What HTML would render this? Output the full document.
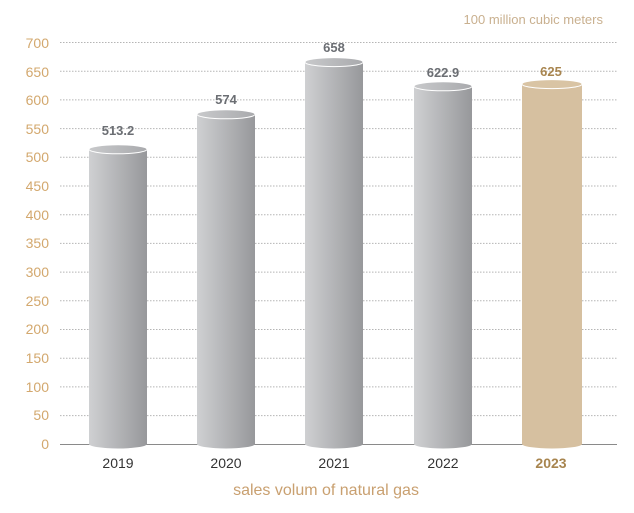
<!DOCTYPE html>
<html><head><style>body{margin:0;background:#fff}svg{display:block}</style></head><body>
<svg width="634" height="513" viewBox="0 0 634 513" font-family="Liberation Sans, Arial, sans-serif">
<defs>
<linearGradient id="g" x1="0" x2="1"><stop offset="0" stop-color="#cfd0d2"/><stop offset="1" stop-color="#97989b"/></linearGradient>
<linearGradient id="gt" x1="0" x2="1"><stop offset="0" stop-color="#c8c9cb"/><stop offset="1" stop-color="#a9aaad"/></linearGradient>
</defs>
<text x="603" y="24" font-size="13" fill="#c9b08f" text-anchor="end">100 million cubic meters</text>
<g stroke="#b5b5b5" stroke-width="1" stroke-dasharray="1.5,1.5">
<line x1="60" x2="617" y1="42.5" y2="42.5"/><line x1="60" x2="617" y1="71.2" y2="71.2"/><line x1="60" x2="617" y1="99.9" y2="99.9"/><line x1="60" x2="617" y1="128.6" y2="128.6"/><line x1="60" x2="617" y1="157.3" y2="157.3"/><line x1="60" x2="617" y1="186" y2="186"/><line x1="60" x2="617" y1="214.7" y2="214.7"/><line x1="60" x2="617" y1="243.4" y2="243.4"/><line x1="60" x2="617" y1="272.1" y2="272.1"/><line x1="60" x2="617" y1="300.8" y2="300.8"/><line x1="60" x2="617" y1="329.5" y2="329.5"/><line x1="60" x2="617" y1="358.2" y2="358.2"/><line x1="60" x2="617" y1="386.9" y2="386.9"/><line x1="60" x2="617" y1="415.6" y2="415.6"/>
</g>
<line x1="60" x2="617" y1="444.5" y2="444.5" stroke="#8a8a8a" stroke-width="1"/>
<g font-size="14" fill="#d3a86e" text-anchor="end">
<text x="49" y="48">700</text><text x="49" y="77">650</text><text x="49" y="105">600</text><text x="49" y="134">550</text><text x="49" y="162">500</text><text x="49" y="191">450</text><text x="49" y="220">400</text><text x="49" y="248">350</text><text x="49" y="277">300</text><text x="49" y="306">250</text><text x="49" y="334">200</text><text x="49" y="363">150</text><text x="49" y="392">100</text><text x="49" y="420">50</text><text x="49" y="449">0</text>
</g>
<g>
<path d="M89,149.3 V444 A29,4.5 0 0 0 147,444 V149.3 Z" fill="url(#g)"/><ellipse cx="118" cy="149.3" rx="29" ry="4.5" fill="url(#gt)" stroke="#fff" stroke-width="1"/>
<path d="M197,114.3 V444 A29,4.5 0 0 0 255,444 V114.3 Z" fill="url(#g)"/><ellipse cx="226" cy="114.3" rx="29" ry="4.5" fill="url(#gt)" stroke="#fff" stroke-width="1"/>
<path d="M305,62.1 V444 A29,4.5 0 0 0 363,444 V62.1 Z" fill="url(#g)"/><ellipse cx="334" cy="62.1" rx="29" ry="4.5" fill="url(#gt)" stroke="#fff" stroke-width="1"/>
<path d="M414,86.3 V444 A29,4.5 0 0 0 472,444 V86.3 Z" fill="url(#g)"/><ellipse cx="443" cy="86.3" rx="29" ry="4.5" fill="url(#gt)" stroke="#fff" stroke-width="1"/>
<path d="M522,84.1 V444 A30,4.5 0 0 0 582,444 V84.1 Z" fill="#d6c0a0"/><ellipse cx="552" cy="84.1" rx="30" ry="4.5" fill="#d9c4a4" stroke="#fff" stroke-width="1"/>
</g>
<g font-size="13" font-weight="bold" fill="#6b6e73" text-anchor="middle">
<text x="118" y="135">513.2</text><text x="226" y="104">574</text><text x="334" y="52">658</text><text x="443" y="77">622.9</text><text x="551" y="76" fill="#a8854f">625</text>
</g>
<g font-size="14" fill="#333" text-anchor="middle">
<text x="118" y="468">2019</text><text x="226" y="468">2020</text><text x="334" y="468">2021</text><text x="443" y="468">2022</text><text x="551" y="468" fill="#a8854f" font-weight="bold">2023</text>
</g>
<text x="326" y="495" font-size="16" fill="#c9a070" text-anchor="middle">sales volum of natural gas</text>
</svg>
</body></html>
